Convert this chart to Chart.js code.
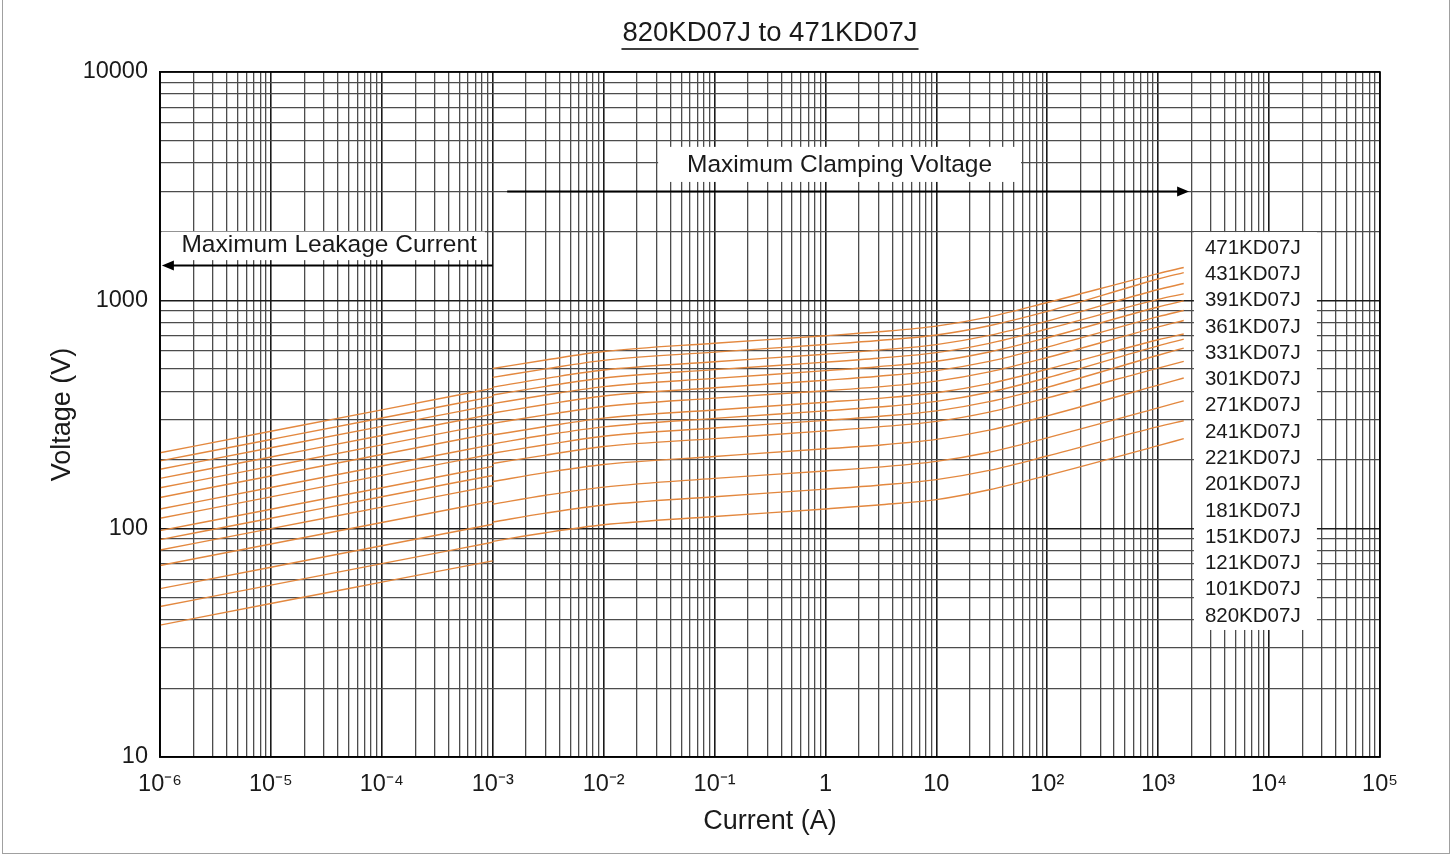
<!DOCTYPE html>
<html><head><meta charset="utf-8">
<script src="https://cdn.jsdelivr.net/npm/chart.js@4.4.1/dist/chart.umd.min.js"></script>
<style>
html,body{margin:0;padding:0;background:#fff;}
#wrap{position:relative;width:1452px;height:856px;}
canvas{display:block;}
</style></head><body>
<div id="wrap"><canvas id="c"></canvas></div>
<script>
// ---------- data ----------
const chartTitle = '820KD07J to 471KD07J';
const seriesNames = ['820KD07J','101KD07J','121KD07J','151KD07J','181KD07J','201KD07J','221KD07J','241KD07J','271KD07J','301KD07J','331KD07J','361KD07J','391KD07J','431KD07J','471KD07J'];
const leakCurrent  = [1e-6, 1e-5, 1e-4, 1e-3];
const clampCurrent = [1e-3, 3e-3, 1e-2, 1e-1, 1, 3, 10, 30, 100, 1000, 1700];

const leak820 = [37.8, 47.0, 58.3, 72.3];
const leak101 = [45.6, 56.6, 70.3, 87.2];
const leak121 = [54.6, 67.8, 84.2, 104.5];
const leak151 = [69, 85.7, 106.4, 132];
const leak181 = [80.6, 100, 124.3, 154.2];
const leak201 = [89.5, 111.1, 138, 171];
const leak221 = [98, 121.7, 151.1, 187.5];
const leak241 = [111, 137.8, 171.2, 212.3];
const leak271 = [122, 151.5, 188.1, 233.4];
const leak301 = [137, 170.1, 211.3, 262];
const leak331 = [151, 187.5, 232.8, 288.9];
const leak361 = [166, 206.1, 256, 317.5];
const leak391 = [182, 226, 280.6, 348.2];
const leak431 = [198, 245.9, 305.3, 378.8];
const leak471 = [215, 267, 331.5, 411.3];

const clamp820 = [88, 96, 104, 113, 122, 127, 134, 148, 171, 231, 248];
const clamp101 = [107, 117, 127, 138, 149, 155, 164, 180, 208, 280, 297];
const clamp121 = [128, 140, 152, 166, 179, 186, 197, 216, 250, 338, 363];
const clamp151 = [161, 176, 191, 207, 224, 232, 246, 270, 312, 425, 457];
const clamp181 = [193, 210, 229, 248, 268, 279, 295, 324, 374, 505, 540];
const clamp201 = [214, 233, 254, 276, 298, 310, 328, 360, 416, 575, 618];
const clamp221 = [235, 257, 279, 304, 328, 341, 361, 396, 458, 632, 676];
const clamp241 = [257, 280, 305, 331, 358, 372, 394, 432, 499, 672, 712];
const clamp271 = [289, 315, 343, 373, 402, 418, 443, 486, 562, 765, 816];
const clamp301 = [321, 350, 381, 414, 447, 465, 492, 540, 624, 848, 903];
const clamp331 = [353, 385, 419, 455, 492, 512, 541, 594, 686, 935, 994];
const clamp361 = [385, 420, 457, 497, 536, 558, 590, 648, 749, 1010, 1067];
const clamp391 = [417, 455, 495, 538, 581, 605, 640, 702, 811, 1115, 1185];
const clamp431 = [460, 501, 546, 593, 641, 667, 705, 774, 894, 1240, 1323];
const clamp471 = [503, 548, 597, 649, 700, 728, 771, 846, 978, 1310, 1392];

const leakSeries  = [leak820, leak101, leak121, leak151, leak181, leak201, leak221, leak241, leak271, leak301, leak331, leak361, leak391, leak431, leak471];
const clampSeries = [clamp820, clamp101, clamp121, clamp151, clamp181, clamp201, clamp221, clamp241, clamp271, clamp301, clamp331, clamp361, clamp391, clamp431, clamp471];

const xDecades = [1e-6, 1e-5, 1e-4, 1e-3, 1e-2, 1e-1, 1, 10, 100, 1000, 1e4, 1e5];
const xTickLabels = ['10\u207B\u2076','10\u207B\u2075','10\u207B\u2074','10\u207B\u00B3','10\u207B\u00B2','10\u207B\u00B9','1','10','10\u00B2','10\u00B3','10\u2074','10\u2075'];
const yDecades = [10, 100, 1000, 10000];
const yTickLabels = ['10', '100', '1000', '10000'];
const xTitle = 'Current (A)';
const yTitle = 'Voltage (V)';
const clampNote = 'Maximum Clamping Voltage';
const leakNote = 'Maximum Leakage Current';

// ---------- build ----------
const FONT = '"Liberation Sans", Arial, Helvetica, sans-serif';
const LINE = '#E3883F';
Chart.defaults.font.family = FONT;
Chart.defaults.color = '#1a1a1a';

function logGrid(decades){
  const out = [];
  for (let i = 0; i < decades.length - 1; i++) {
    for (let m = 1; m <= 9; m++) out.push(parseFloat((m * decades[i]).toPrecision(4)));
  }
  out.push(decades[decades.length - 1]);
  return out;
}
const xGrid = logGrid(xDecades);
const yGrid = logGrid(yDecades);
function isDecade(v){ const l = Math.log10(v); return Math.abs(l - Math.round(l)) < 1e-7; }

const datasets = [];
seriesNames.forEach((name, i) => {
  datasets.push({
    label: name + ' leakage',
    data: leakCurrent.map((x, j) => ({x, y: leakSeries[i][j]})),
    borderColor: LINE, borderWidth: 1.4, pointRadius: 0, fill: false,
    cubicInterpolationMode: 'monotone'
  });
  datasets.push({
    label: name + ' clamping',
    data: clampCurrent.map((x, j) => ({x, y: clampSeries[i][j]})),
    borderColor: LINE, borderWidth: 1.4, pointRadius: 0, fill: false,
    cubicInterpolationMode: 'monotone'
  });
});

function arrow(ctx, x1, y, x2){
  const dir = Math.sign(x2 - x1);
  ctx.save();
  ctx.strokeStyle = '#000'; ctx.fillStyle = '#000'; ctx.lineWidth = 2;
  ctx.beginPath(); ctx.moveTo(x1, y); ctx.lineTo(x2 - dir * 10, y); ctx.stroke();
  ctx.beginPath(); ctx.moveTo(x2, y); ctx.lineTo(x2 - dir * 12, y - 5); ctx.lineTo(x2 - dir * 12, y + 5); ctx.closePath(); ctx.fill();
  ctx.restore();
}

const decor = {
  id: 'decor',
  afterDatasetsDraw(chart){
    const {ctx, chartArea: ca, scales: {x, y}} = chart;
    ctx.save();
    // plot frame
    ctx.strokeStyle = '#000'; ctx.lineWidth = 1.6;
    ctx.strokeRect(ca.left, ca.top, ca.right - ca.left, ca.bottom - ca.top);

    // clamping note
    let bx1 = x.getPixelForValue(0.031), bx2 = x.getPixelForValue(58);
    let by1 = y.getPixelForValue(4700), by2 = y.getPixelForValue(3300);
    ctx.fillStyle = '#fff'; ctx.fillRect(bx1, by1, bx2 - bx1, by2 - by1);
    ctx.fillStyle = '#1a1a1a'; ctx.font = '24.5px ' + FONT;
    ctx.textAlign = 'center'; ctx.textBaseline = 'middle';
    ctx.fillText(clampNote, (bx1 + bx2) / 2, (by1 + by2) / 2 + 1);
    arrow(ctx, x.getPixelForValue(1.35e-3), y.getPixelForValue(3000), x.getPixelForValue(1900));

    // leakage note
    bx1 = x.getPixelForValue(1.03e-6); bx2 = x.getPixelForValue(8.5e-4);
    by1 = y.getPixelForValue(2000); by2 = y.getPixelForValue(1500);
    ctx.fillStyle = '#fff'; ctx.fillRect(bx1, by1, bx2 - bx1, by2 - by1);
    ctx.fillStyle = '#1a1a1a';
    ctx.fillText(leakNote, (bx1 + bx2) / 2 + 6, (by1 + by2) / 2 - 1);
    arrow(ctx, x.getPixelForValue(1e-3), y.getPixelForValue(1420), x.getPixelForValue(1.04e-6));

    // series labels
    bx1 = x.getPixelForValue(2100); bx2 = x.getPixelForValue(27000);
    by1 = y.getPixelForValue(1990); by2 = y.getPixelForValue(36);
    ctx.fillStyle = '#fff'; ctx.fillRect(bx1, by1, bx2 - bx1, by2 - by1);
    ctx.fillStyle = '#1a1a1a'; ctx.font = '20.5px ' + FONT; ctx.textAlign = 'left';
    const step = (by2 - by1 - 30) / (seriesNames.length - 1);
    for (let i = 0; i < seriesNames.length; i++) {
      const name = seriesNames[seriesNames.length - 1 - i];
      ctx.fillText(name, bx1 + 11, by1 + 16 + i * step);
    }

    // title
    const cx = (ca.left + ca.right) / 2;
    ctx.font = '27.5px ' + FONT; ctx.textAlign = 'center'; ctx.textBaseline = 'middle';
    ctx.fillText(chartTitle, cx, 33);
    const w = ctx.measureText(chartTitle).width;
    ctx.strokeStyle = '#000'; ctx.lineWidth = 1.5;
    ctx.beginPath(); ctx.moveTo(cx - w / 2 - 1, 49); ctx.lineTo(cx + w / 2 + 1, 49); ctx.stroke();

    // outer frame
    ctx.strokeStyle = '#a0a0a0'; ctx.lineWidth = 1;
    ctx.strokeRect(2.5, -1, chart.width - 5, chart.height - 1.5);
    ctx.restore();
  }
};

function gridColor(c){ return isDecade(c.tick ? c.tick.value : 1) ? '#1a1a1a' : '#4c4c4c'; }
function gridWidth(c){ return isDecade(c.tick ? c.tick.value : 1) ? 1.6 : 1.3; }

new Chart(document.getElementById('c'), {
  type: 'line',
  data: { datasets },
  plugins: [decor],
  options: {
    responsive: true, maintainAspectRatio: false, animation: false,
    layout: { padding: { left: 42, right: 72, top: 72, bottom: 14 } },
    plugins: { legend: { display: false }, tooltip: { enabled: false }, title: { display: false } },
    scales: {
      x: {
        type: 'logarithmic', min: 1e-6, max: 1e5,
        afterBuildTicks: s => { s.ticks = xGrid.map(v => ({value: v})); },
        afterFit: s => { s.height = 85; },
        ticks: {
          autoSkip: false, maxRotation: 0, padding: 13,
          font: { size: 23.5 }, color: '#1a1a1a',
          callback: v => { const k = xDecades.findIndex(d => Math.abs(Math.log10(d) - Math.log10(v)) < 1e-7); return k >= 0 ? xTickLabels[k] : ''; }
        },
        grid: { drawTicks: false, color: gridColor, lineWidth: gridWidth },
        border: { display: true, color: '#000', width: 1.6 },
        title: { display: true, text: xTitle, font: { size: 27 }, color: '#1a1a1a', padding: { top: 2, bottom: 4 } }
      },
      y: {
        type: 'logarithmic', min: 10, max: 10000,
        afterBuildTicks: s => { s.ticks = yGrid.map(v => ({value: v})); },
        afterFit: s => { s.width = 118; },
        ticks: {
          autoSkip: false, padding: 12, font: { size: 23.5 }, color: '#1a1a1a',
          callback: v => { const k = yDecades.findIndex(d => Math.abs(Math.log10(d) - Math.log10(v)) < 1e-7); return k >= 0 ? yTickLabels[k] : ''; }
        },
        grid: { drawTicks: false, color: gridColor, lineWidth: gridWidth },
        border: { display: true, color: '#000', width: 1.6 },
        title: { display: true, text: yTitle, font: { size: 27 }, color: '#1a1a1a', padding: { top: 4, bottom: 4 } }
      }
    }
  }
});
</script>
</body></html>
